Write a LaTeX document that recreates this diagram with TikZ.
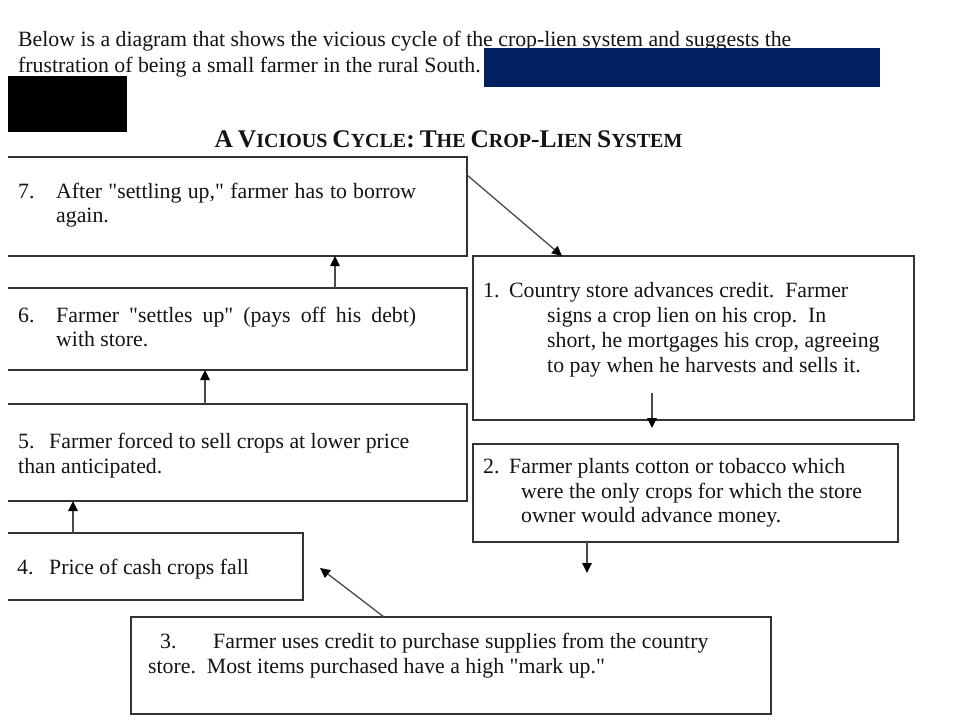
\documentclass[tikz,border=0pt]{standalone}
\usepackage{fontspec}
\setmainfont{Liberation Serif}
\usetikzlibrary{arrows.meta,calc}
\definecolor{ink}{HTML}{141414}
\definecolor{edge}{HTML}{333333}
\definecolor{shaft}{HTML}{4A4A4A}
\definecolor{navy}{HTML}{002060}
\newcommand\tbig[1]{{\fontsize{25.4}{25.4}\selectfont #1}}
\newcommand\tsml[1]{{\fontsize{20}{20}\selectfont #1}}
\newcommand\dq{\textquotedbl}
\begin{document}
\begin{tikzpicture}[x=1pt,y=-1pt,
  txt/.style={anchor=base west, inner sep=0pt, text=ink, font=\fontsize{21.8}{25}\selectfont},
  frame/.style={draw=edge, line width=1.4pt},
  area/.style={inner sep=0pt, outer sep=0pt, anchor=north west},
  arr/.style={draw=shaft, line width=1.3pt, -{Triangle[length=10pt,width=9.5pt,color=black]}}]
\useasboundingbox[fill=white] (0,0) rectangle (960,720);

% intro text
\node[txt] (intro1) at (18,46) {Below is a diagram that shows the vicious cycle of the crop-lien system and suggests the};
\node[txt] (intro2) at (18,72) {frustration of being a small farmer in the rural South.};
\node[area, fill=navy, minimum width=396pt, minimum height=39pt] (redact1) at (484,48) {};
\node[area, fill=black, minimum width=119pt, minimum height=56pt] (redact2) at (8,76) {};

% title
\node[anchor=base, inner sep=0pt, text=ink, font=\bfseries\fontsize{20}{20}\selectfont] (title) at (448.5,147)
  {\tbig{A} \tbig{V}\tsml{ICIOUS} \tbig{C}\tsml{YCLE}\tbig{:} \tbig{T}\tsml{HE} \tbig{C}\tsml{ROP}\tbig{-L}\tsml{IEN} \tbig{S}\tsml{YSTEM}};

% boxes
\node[area, minimum width=459pt, minimum height=99pt] (b7) at (8,157) {};
\node[area, minimum width=459pt, minimum height=82pt] (b6) at (8,288) {};
\node[area, minimum width=459pt, minimum height=97pt] (b5) at (8,404) {};
\node[area, minimum width=295pt, minimum height=67pt] (b4) at (8,533) {};
\node[area, frame, minimum width=441pt, minimum height=164pt] (b1) at (473,256) {};
\node[area, frame, minimum width=425pt, minimum height=98pt] (b2) at (473,444) {};
\node[area, frame, minimum width=640pt, minimum height=97pt] (b3) at (131,617) {};
\foreach \b in {b7,b6,b5,b4}
  \draw[frame] (\b.north west) -- (\b.north east) -- (\b.south east) -- (\b.south west);

% box texts
\node[txt] (t7n) at (18,198) {7.};
\node[txt] (t7a) at (56,198) {\makebox[360pt][s]{After \dq settling up,\dq{} farmer has to borrow}};
\node[txt] (t7b) at (56,222) {again.};

\node[txt] (t6n) at (18,322) {6.};
\node[txt] (t6a) at (56,322) {\makebox[360pt][s]{Farmer \dq settles up\dq{} (pays off his debt)}};
\node[txt] (t6b) at (56,346) {with store.};

\node[txt] (t5n) at (18,448) {5.};
\node[txt] (t5a) at (49,448) {Farmer forced to sell crops at lower price};
\node[txt] (t5b) at (18,473) {than anticipated.};

\node[txt] (t4n) at (17,574) {4.};
\node[txt] (t4a) at (49,574) {Price of cash crops fall};

\node[txt] (t1n) at (483,297) {1.};
\node[txt] (t1a) at (509,297) {Country store advances credit.\ \ Farmer};
\node[txt] (t1b) at (547,322) {signs a crop lien on his crop.\ \ In};
\node[txt] (t1c) at (547,347) {short, he mortgages his crop, agreeing};
\node[txt] (t1d) at (547,372) {to pay when he harvests and sells it.};

\node[txt] (t2n) at (483,473) {2.};
\node[txt] (t2a) at (509,473) {Farmer plants cotton or tobacco which};
\node[txt] (t2b) at (521,498) {were the only crops for which the store};
\node[txt] (t2c) at (521,522) {owner would advance money.};

\node[txt] (t3n) at (160,648) {3.};
\node[txt] (t3a) at (213,648) {Farmer uses credit to purchase supplies from the country};
\node[txt] (t3b) at (148,673) {store.\ \ Most items purchased have a high \dq mark up.\dq};

% free ends
\coordinate (e12) at (652,428);
\coordinate (e23) at (587,573);
\coordinate (e34) at (320,568);

% connectors
\draw[arr] ($(b7.north east)+(0,18)$) -- ($(b1.north west)+(89,0)$);
\draw[arr] ($(b1.south west)+(179,-27)$) -- (e12);
\draw[arr] ($(b2.south west)+(114,0)$) -- (e23);
\draw[arr] ($(b3.north west)+(253,0)$) -- (e34);
\draw[arr] ($(b4.north west)+(65,0)$) -- ($(b5.south west)+(65,0)$);
\draw[arr] ($(b5.north west)+(197,0)$) -- ($(b6.south west)+(197,0)$);
\draw[arr] ($(b6.north west)+(327,0)$) -- ($(b7.south west)+(327,0)$);
\end{tikzpicture}
\end{document}
